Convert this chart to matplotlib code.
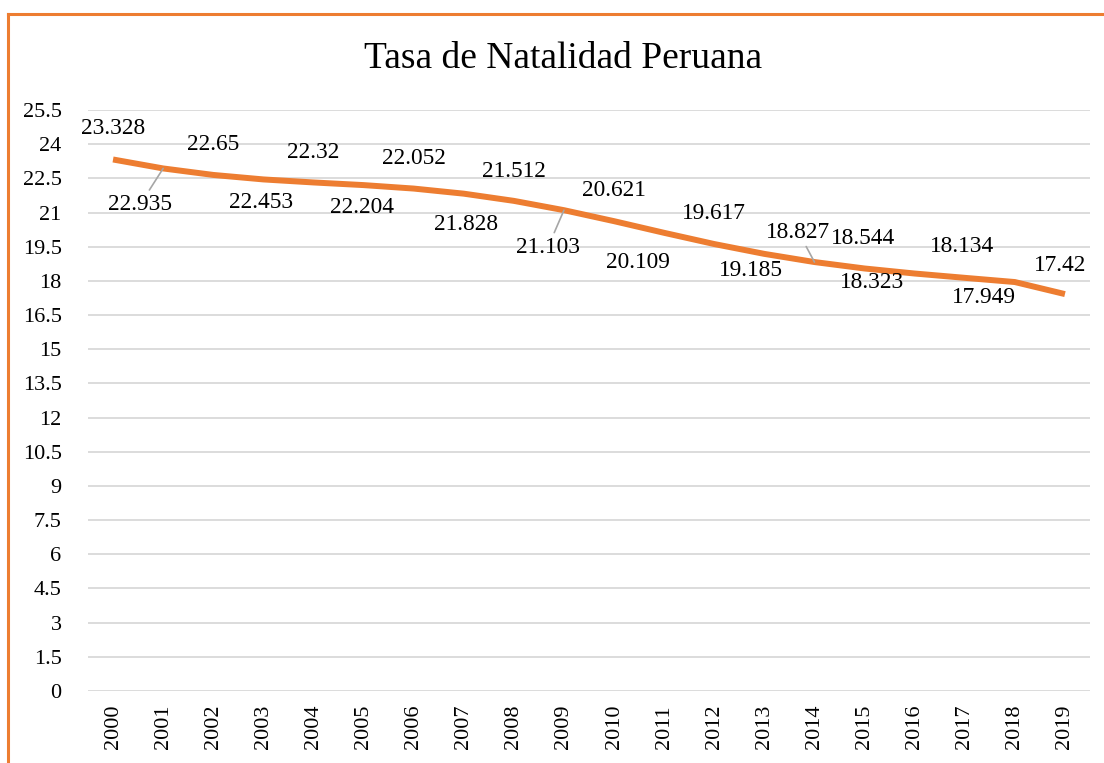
import matplotlib
matplotlib.use("Agg")
import matplotlib.pyplot as plt
from matplotlib.lines import Line2D

years = [str(y) for y in range(2000, 2020)]
rates = [23.328, 22.935, 22.65, 22.453, 22.32, 22.204, 22.052, 21.828, 21.512, 21.103,
         20.621, 20.109, 19.617, 19.185, 18.827, 18.544, 18.323, 18.134, 17.949, 17.42]
y_ticks = [0, 1.5, 3, 4.5, 6, 7.5, 9, 10.5, 12, 13.5, 15, 16.5, 18, 19.5, 21, 22.5, 24, 25.5]
title = "Tasa de Natalidad Peruana"

# label placement (pixel offsets from each point) and leader-line flags: styling only
label_dx = [0, -23, 0, -2, 0, -2, 0, 2, 0, -16, 0, -26, 0, -13, -16, -1, -43, -3, -31, -5]
label_dy = [31, -36, 30, -23, 30, -22, 30, -31, 29, -37, 31, -30, 31, -17, 30, 30, -9, 31, -15, 29]
leader = [False, True, False, False, False, False, False, False, False, True,
          False, False, False, False, True, False, False, False, False, False]

ORANGE = "#ED7D31"
plt.rcParams['font.family'] = ['Liberation Serif', 'DejaVu Serif']

fig = plt.figure(figsize=(11.04, 7.63), dpi=100)
ax = fig.add_axes([88 / 1104, 1 - 691 / 763, (1090 - 88) / 1104, (691 - 110) / 763])

x = list(range(len(years)))
ax.plot(x, rates, color=ORANGE, lw=4.3, solid_joinstyle='round', solid_capstyle='butt', zorder=3)

for i, (v, dx, dy, ld) in enumerate(zip(rates, label_dx, label_dy, leader)):
    kw = {}
    if ld:
        kw['arrowprops'] = dict(arrowstyle='-', color='#a6a6a6', lw=1.2, shrinkA=1, shrinkB=0)
    ax.annotate(f"{v:g}", xy=(i, v), xytext=(dx, dy), textcoords='offset pixels',
                ha='center', va='center', fontsize=16.8, color='#000000', zorder=4, **kw)

ax.set_xlim(-0.5, len(years) - 0.5)
ax.set_ylim(0, 25.5)
ax.set_yticks(y_ticks)
ax.set_yticklabels([f"{t:g}" for t in y_ticks])
ax.set_xticks(x)
ax.set_xticklabels(years, rotation=90)
ax.tick_params(axis='y', length=0, pad=19, labelsize=16)
ax.tick_params(axis='x', length=0, pad=10, labelsize=16)
ax.grid(axis='y', color='#d9d9d9', lw=1.3)
ax.set_axisbelow(True)
for s in ax.spines.values():
    s.set_visible(False)

fig.text(563 / 1104, 1 - 59 / 763, title, ha='center', va='center', fontsize=27)

# orange chart-area border (cropped at right and bottom)
fig.add_artist(Line2D([8 / 1104, 1.0], [1 - 14 / 763, 1 - 14 / 763], color=ORANGE, lw=2.2,
                      transform=fig.transFigure))
fig.add_artist(Line2D([8 / 1104, 8 / 1104], [0.0, 1 - 14 / 763], color=ORANGE, lw=2.2,
                      transform=fig.transFigure))

fig.savefig("out.png", dpi=100, facecolor='white')
